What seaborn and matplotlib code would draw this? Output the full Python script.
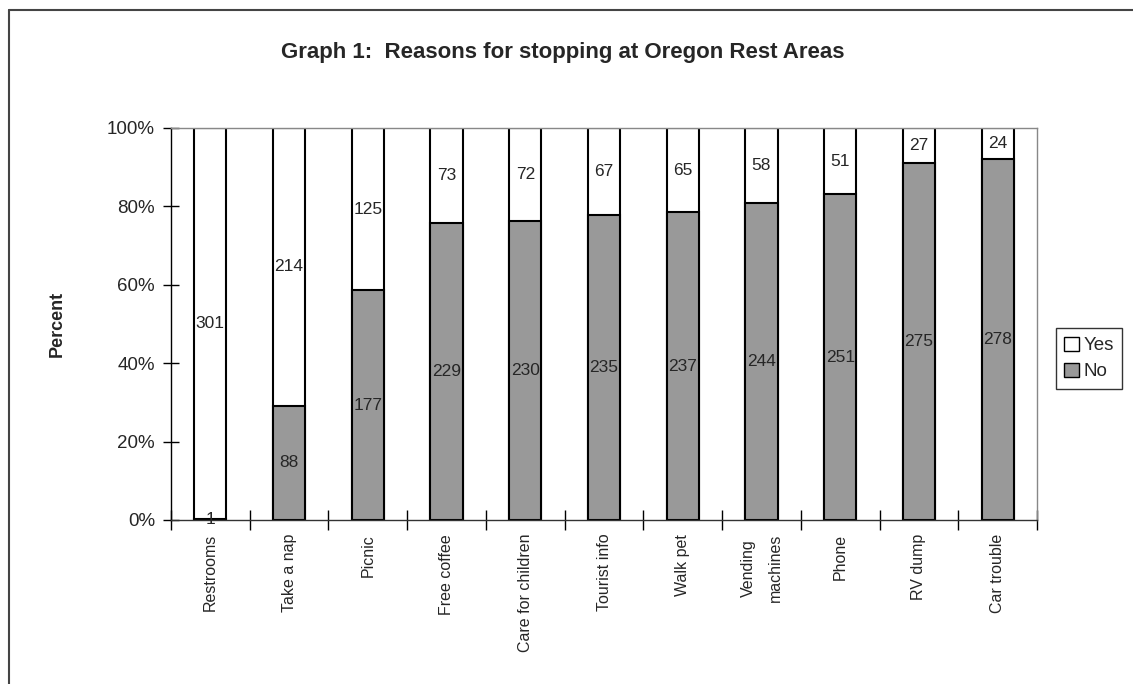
import matplotlib
matplotlib.use("Agg")
import matplotlib.pyplot as plt
from matplotlib.lines import Line2D
from matplotlib.patches import Patch
import numpy as np
import pandas as pd
import seaborn as sns

# Survey responses per reason for stopping
reasons = ["Restrooms", "Take a nap", "Picnic", "Free coffee", "Care for children",
           "Tourist info", "Walk pet", "Vending\nmachines", "Phone", "RV dump", "Car trouble"]
no_counts = [1, 88, 177, 229, 230, 235, 237, 244, 251, 275, 278]
yes_counts = [301, 214, 125, 73, 72, 67, 65, 58, 51, 27, 24]
y_ticks = [0, 20, 40, 60, 80, 100]
y_tick_labels = ["0%", "20%", "40%", "60%", "80%", "100%"]

sns.set_style("white")
plt.rcParams["font.family"] = ["Liberation Sans", "DejaVu Sans"]

no_arr = np.array(no_counts, dtype=float)
yes_arr = np.array(yes_counts, dtype=float)
total = no_arr + yes_arr
no_pct = no_arr / total * 100
yes_pct = yes_arr / total * 100

df = pd.DataFrame({"reason": reasons, "no": no_pct, "stack": no_pct + yes_pct})

fig = plt.figure(figsize=(11.33, 6.84), dpi=100)
ax = fig.add_axes([0.1509, 0.2398, 0.9153 - 0.1509, 0.8129 - 0.2398])

gray = "#999999"
sns.barplot(data=df, x="reason", y="stack", color="white", edgecolor="black",
            linewidth=1.5, width=0.41, saturation=1, ax=ax)
sns.barplot(data=df, x="reason", y="no", color=gray, edgecolor="black",
            linewidth=1.5, width=0.41, saturation=1, ax=ax)

# Count labels centred in each segment
for i in range(len(reasons)):
    ax.text(i, no_pct[i] / 2, f"{no_counts[i]}", ha="center", va="center", fontsize=12.5)
    ax.text(i, no_pct[i] + yes_pct[i] / 2, f"{yes_counts[i]}", ha="center", va="center",
            fontsize=12.5)

n = len(reasons)
ax.set_xlim(-0.5, n - 0.5)
ax.set_ylim(0, 100)
ax.set_yticks(y_ticks)
ax.set_yticklabels(y_tick_labels, fontsize=13.5)
ax.set_xticks(range(n))
ax.set_xticklabels(reasons, rotation=90, fontsize=11.5, va="top", ha="center",
                   multialignment="center", linespacing=2.0)
ax.tick_params(axis="both", which="both", bottom=True, left=True)
ax.tick_params(axis="x", which="major", length=0, pad=10)
ax.tick_params(axis="y", length=11, direction="inout", width=1, pad=6, color="black")

# Category separators on the x axis
ax.set_xticks(np.arange(-0.5, n, 1.0), minor=True)
ax.tick_params(axis="x", which="minor", length=15, direction="inout", width=1, color="black")

ax.set_xlabel("")
ax.set_ylabel("Percent", fontsize=13, fontweight="bold", labelpad=30)

for side in ["top", "right"]:
    ax.spines[side].set_color("#888888")
    ax.spines[side].set_linewidth(1)
ax.spines["left"].set_color("black")
ax.spines["bottom"].set_color("#333333")
ax.spines["left"].set_linewidth(1)
ax.spines["bottom"].set_linewidth(1)
ax.grid(False)

fig.suptitle("Graph 1:  Reasons for stopping at Oregon Rest Areas", fontsize=16,
             fontweight="bold", x=0.497, y=0.938)

handles = [Patch(facecolor="white", edgecolor="black", label="Yes"),
           Patch(facecolor=gray, edgecolor="black", label="No")]
leg = fig.legend(handles=handles, loc="center left", bbox_to_anchor=(0.932, 0.476),
                 fontsize=13.5, frameon=True, fancybox=False, handlelength=0.8,
                 handleheight=0.8, handletextpad=0.2, borderpad=0.45, labelspacing=0.45,
                 borderaxespad=0)
leg.get_frame().set_edgecolor("black")
leg.get_frame().set_linewidth(1)

# Outer chart frame along the left and top edges
fig.add_artist(Line2D([8.5 / 1133, 8.5 / 1133], [0, 1 - 9.5 / 684], color="#444444",
                      linewidth=1.5, transform=fig.transFigure))
fig.add_artist(Line2D([8.5 / 1133, 1], [1 - 9.5 / 684, 1 - 9.5 / 684], color="#444444",
                      linewidth=1.5, transform=fig.transFigure))

fig.savefig("out.png", dpi=100)
